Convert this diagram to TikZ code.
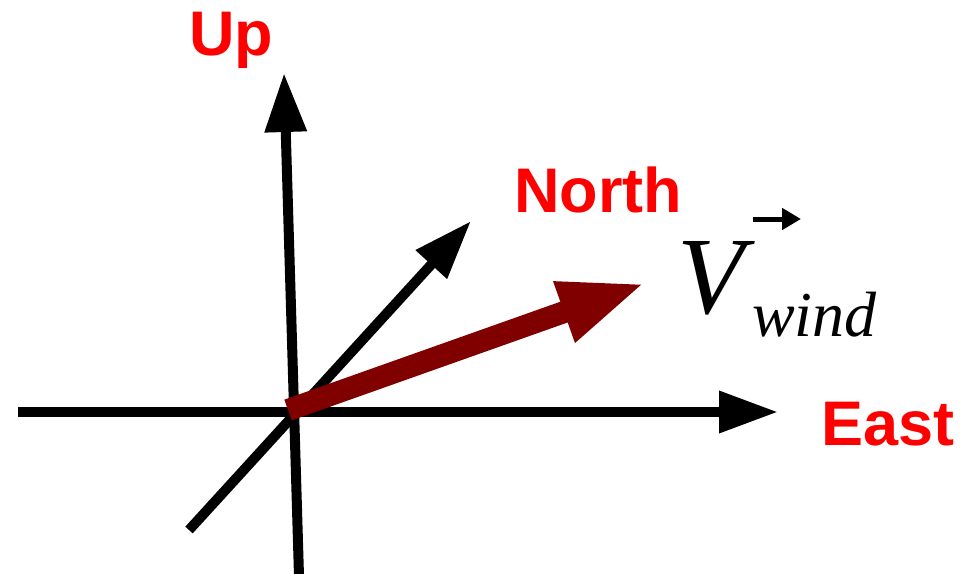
\documentclass[tikz,border=0pt]{standalone}
\usepackage{fontspec}
\setmainfont{Liberation Sans}
\newfontfamily\timesfont{Liberation Serif}
\usetikzlibrary{arrows.meta}
\definecolor{windred}{RGB}{128,0,0}
\definecolor{labelred}{RGB}{255,0,0}
\tikzset{
  axis/.style={line width=10pt, draw=black, -{Triangle[length=59pt,width=40pt]}},
  windvec/.style={line width=22pt, draw=windred, -{Triangle[length=87pt,width=58pt]}},
  axlabel/.style={inner sep=0pt, anchor=base west, text=labelred, font=\fontsize{63}{63}\selectfont\bfseries},
  vsym/.style={inner sep=0pt, anchor=base west, font=\timesfont\itshape\fontsize{110}{110}\selectfont},
  vsub/.style={inner sep=0pt, anchor=base west, font=\timesfont\itshape\fontsize{64}{64}\selectfont},
  vecarrow/.style={line width=5pt, -{Triangle[length=19pt,width=21pt]}}
}
\begin{document}
\begin{tikzpicture}[x=1pt,y=-1pt]
\useasboundingbox (0,0) rectangle (961,573);
% axis end points
\coordinate (Ewest) at (18,412);
\coordinate (Eeast) at (778,412);
\coordinate (Ubot) at (299,576);
\coordinate (Utop) at (284,73);
\coordinate (Nsw) at (189,530);
\coordinate (Nne) at (471,221);
\coordinate (Wstart) at (288,410);
\coordinate (Wtip) at (646,283);
% axes
\draw[axis] (Ewest) -- (Eeast);
\draw[axis] (Ubot) -- (Utop);
\draw[axis] (Nsw) -- (Nne);
% wind vector
\draw[windvec] (Wstart) -- (Wtip);
% labels
\node[axlabel] (up) at (189,55) {Up};
\node[axlabel] (north) at (514,212) {North};
\node[axlabel] (east) at (821,445) {East};
\node[vsym] (V) at (677,313) {V};
\node[vsub] (wind) at (752,336) {wind};
\coordinate (va) at (753,219);
\coordinate (vb) at (801,219);
\draw[vecarrow] (va) -- (vb);
\end{tikzpicture}
\end{document}
